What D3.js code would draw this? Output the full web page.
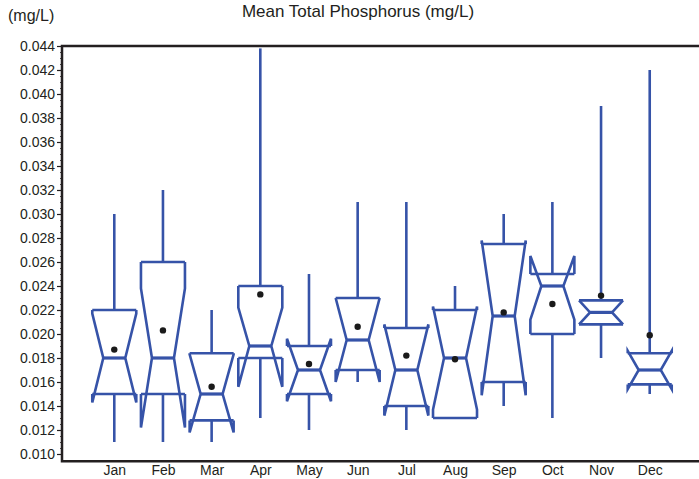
<!DOCTYPE html>
<html>
<head>
<meta charset="utf-8">
<script src="https://cdn.jsdelivr.net/npm/d3@7"></script>
<style>
  body { margin: 0; background: #fff; }
  text { font-family: "Liberation Sans", Arial, sans-serif; fill: #231f20; }
</style>
</head>
<body>
<div id="chart"></div>
<script>
// monthly box plot values (mg/L)
var months = ["Jan","Feb","Mar","Apr","May","Jun","Jul","Aug","Sep","Oct","Nov","Dec"];
var whiskerLow  = [0.011, 0.011, 0.011, 0.013, 0.012, 0.016, 0.012, 0.013, 0.014, 0.013, 0.018, 0.015];
var q1          = [0.015, 0.015, 0.0128, 0.018, 0.015, 0.017, 0.014, 0.013, 0.016, 0.020, 0.0208, 0.0158];
var medians     = [0.018, 0.018, 0.015, 0.019, 0.017, 0.0195, 0.017, 0.018, 0.0215, 0.024, 0.0218, 0.017];
var q3          = [0.022, 0.026, 0.0184, 0.024, 0.019, 0.023, 0.0205, 0.022, 0.0275, 0.025, 0.0228, 0.0184];
var whiskerHigh = [0.030, 0.032, 0.022, 0.0438, 0.025, 0.031, 0.031, 0.024, 0.030, 0.031, 0.039, 0.042];
var notchLow    = [0.0143, 0.0122, 0.0118, 0.0156, 0.0144, 0.016, 0.0132, 0.0137, 0.0149, 0.0212, 0.0208, 0.0154];
var notchHigh   = [0.0217, 0.0238, 0.0183, 0.0222, 0.0196, 0.023, 0.0208, 0.0223, 0.0278, 0.0265, 0.0228, 0.0186];
var means       = [0.0187, 0.0203, 0.0156, 0.0233, 0.0175, 0.0206, 0.0182, 0.0179, 0.0218, 0.0225, 0.0232, 0.0199];
var yTicks = d3.range(0.010, 0.0441, 0.002);

var width = 699, height = 479;
var plotLeft = 62, plotRight = 702, plotTop = 46;

var svg = d3.select("#chart")
  .append("svg")
    .attr("width", width)
    .attr("height", height);

var x = d3.scalePoint()
  .domain(months)
  .range([plotLeft, plotRight])
  .padding(1.074);

var y = d3.scaleLinear()
  .domain([0.010, 0.044])
  .range([454, plotTop]);

var plotBottom = y(0.0094);

var data = months.map(function(m, i) {
  return {m: m, lo: whiskerLow[i], q1: q1[i], med: medians[i], q3: q3[i],
          hi: whiskerHigh[i], nl: notchLow[i], nh: notchHigh[i], mean: means[i]};
});

var blue = "#3653a8";
var hw = 22; // box half width

// title and unit label
svg.append("text")
  .attr("x", 358).attr("y", 17)
  .attr("text-anchor", "middle")
  .style("font-size", "17px")
  .text("Mean Total Phosphorus (mg/L)");
svg.append("text")
  .attr("x", 8).attr("y", 21)
  .style("font-size", "16px")
  .text("(mg/L)");

// minor ticks on the y axis
svg.append("g")
  .attr("transform", "translate(" + plotLeft + ",0)")
  .call(d3.axisLeft(y).tickValues(d3.range(0.010, 0.0441, 0.0005)).tickSize(2).tickFormat(""))
  .call(function(g) { g.select(".domain").remove(); })
  .selectAll("line").attr("stroke", "#231f20").attr("stroke-width", 0.8);

// y axis
var yAxis = svg.append("g")
  .attr("transform", "translate(" + plotLeft + ",0)")
  .call(d3.axisLeft(y).tickValues(yTicks).tickSize(5).tickPadding(2).tickFormat(d3.format(".3f")));
yAxis.select(".domain").remove();
yAxis.selectAll("line").attr("stroke", "#231f20").attr("stroke-width", 1.2);
yAxis.selectAll("text").style("font-size", "14px").style("font-family", "Liberation Sans, Arial, sans-serif").attr("fill", "#231f20");

// x axis labels
var xAxis = svg.append("g")
  .attr("transform", "translate(0," + plotBottom + ")")
  .call(d3.axisBottom(x).tickSize(0).tickPadding(4));
xAxis.select(".domain").remove();
xAxis.selectAll("text").style("font-size", "14px").style("font-family", "Liberation Sans, Arial, sans-serif").attr("fill", "#231f20");

// frame: left, top and bottom lines
svg.append("path")
  .attr("d", "M" + plotRight + "," + plotTop + "H" + plotLeft + "V" + plotBottom + "H" + plotRight)
  .attr("fill", "none")
  .attr("stroke", "#231f20")
  .attr("stroke-width", 2.5);

var boxes = svg.selectAll("g.box")
  .data(data)
  .enter()
  .append("g")
    .attr("class", "box")
    .attr("fill", "none")
    .attr("stroke", blue)
    .attr("stroke-width", 2.6);

// whiskers
boxes.append("line")
  .attr("x1", function(d) { return x(d.m); })
  .attr("x2", function(d) { return x(d.m); })
  .attr("y1", function(d) { return y(d.q3); })
  .attr("y2", function(d) { return y(d.hi); });
boxes.append("line")
  .attr("x1", function(d) { return x(d.m); })
  .attr("x2", function(d) { return x(d.m); })
  .attr("y1", function(d) { return y(d.q1); })
  .attr("y2", function(d) { return y(d.lo); });

// notched sides
function side(d, s) {
  var cx = x(d.m);
  return d3.line()([
    [cx + s * hw, y(d.q3)],
    [cx + s * hw, y(d.nh)],
    [cx + s * hw / 2, y(d.med)],
    [cx + s * hw, y(d.nl)],
    [cx + s * hw, y(d.q1)]
  ]);
}
boxes.append("path").attr("d", function(d) { return side(d, -1); });
boxes.append("path").attr("d", function(d) { return side(d, 1); });

// hinges
["q1", "q3"].forEach(function(k) {
  boxes.append("line")
    .attr("x1", function(d) { return x(d.m) - hw; })
    .attr("x2", function(d) { return x(d.m) + hw; })
    .attr("y1", function(d) { return y(d[k]); })
    .attr("y2", function(d) { return y(d[k]); });
});

// median
boxes.append("line")
  .attr("x1", function(d) { return x(d.m) - hw / 2; })
  .attr("x2", function(d) { return x(d.m) + hw / 2; })
  .attr("y1", function(d) { return y(d.med); })
  .attr("y2", function(d) { return y(d.med); })
  .attr("stroke-width", 3.2);

// means
boxes.append("circle")
  .attr("cx", function(d) { return x(d.m); })
  .attr("cy", function(d) { return y(d.mean); })
  .attr("r", 3.2)
  .attr("stroke", "none")
  .attr("fill", "#1a1a1a");
</script>
</body>
</html>
